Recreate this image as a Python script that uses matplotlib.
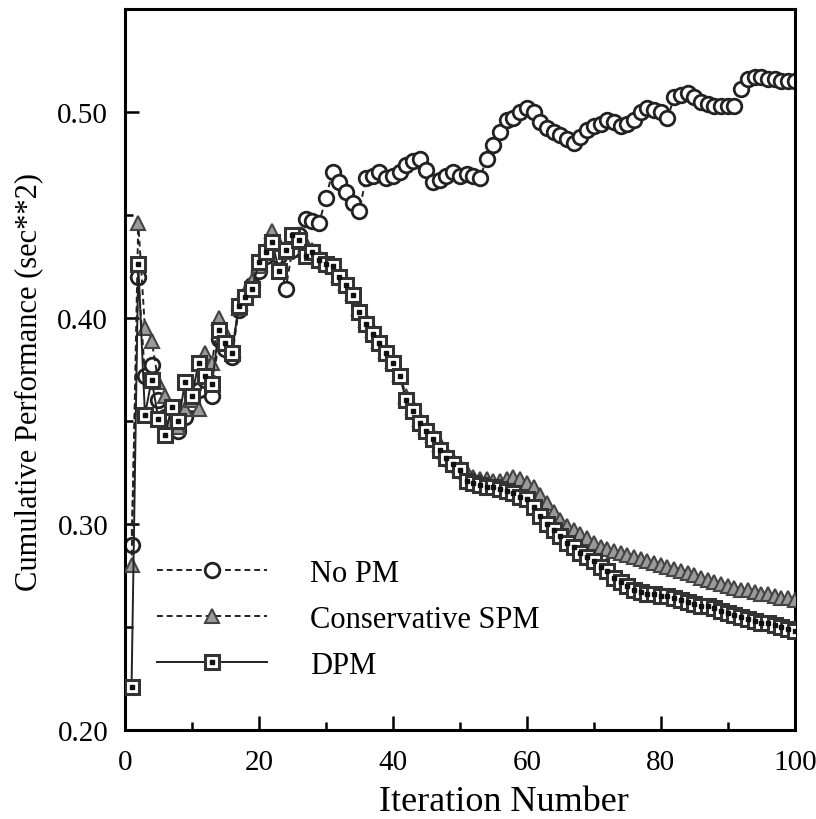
import matplotlib
matplotlib.use('Agg')
import matplotlib.pyplot as plt
import numpy as np
from matplotlib.ticker import MultipleLocator

# --- data (iterations 1..100) ---
iterations = list(range(1, 101))

no_pm = [
    0.290, 0.420, 0.372, 0.377, 0.360, 0.352, 0.347, 0.345, 0.352, 0.358,
    0.365, 0.370, 0.362, 0.390, 0.385, 0.381, 0.404, 0.410, 0.416, 0.423,
    0.430, 0.436, 0.430, 0.414, 0.433, 0.440, 0.448, 0.447, 0.446, 0.458,
    0.471, 0.466, 0.461, 0.456, 0.452, 0.468, 0.469, 0.471, 0.468, 0.469,
    0.471, 0.474, 0.476, 0.477, 0.472, 0.466, 0.467, 0.469, 0.471, 0.469,
    0.470, 0.469, 0.468, 0.477, 0.484, 0.490, 0.496, 0.497, 0.500, 0.502,
    0.500, 0.495, 0.492, 0.490, 0.489, 0.487, 0.485, 0.488, 0.491, 0.493,
    0.494, 0.496, 0.495, 0.493, 0.494, 0.496, 0.500, 0.502, 0.501, 0.500,
    0.497, 0.507, 0.508, 0.509, 0.507, 0.505, 0.504, 0.503, 0.503, 0.503,
    0.503, 0.511, 0.516, 0.517, 0.517, 0.516, 0.516, 0.515, 0.515, 0.515,
]

conservative_spm = [
    0.280, 0.446, 0.395, 0.389, 0.369, 0.362, 0.350, 0.347, 0.356, 0.360,
    0.356, 0.383, 0.378, 0.400, 0.393, 0.385, 0.405, 0.412, 0.418, 0.425,
    0.432, 0.442, 0.436, 0.432, 0.440, 0.437, 0.436, 0.433, 0.430, 0.427,
    0.425, 0.421, 0.417, 0.412, 0.405, 0.399, 0.394, 0.389, 0.384, 0.379,
    0.373, 0.362, 0.357, 0.351, 0.347, 0.343, 0.339, 0.335, 0.331, 0.328,
    0.325, 0.323, 0.322, 0.322, 0.321, 0.321, 0.322, 0.323, 0.322, 0.320,
    0.318, 0.314, 0.310, 0.306, 0.302, 0.299, 0.297, 0.295, 0.293, 0.291,
    0.289, 0.288, 0.287, 0.286, 0.285, 0.284, 0.283, 0.282, 0.281, 0.280,
    0.279, 0.278, 0.277, 0.276, 0.275, 0.274, 0.273, 0.272, 0.271, 0.270,
    0.269, 0.268, 0.268, 0.267, 0.266, 0.266, 0.265, 0.264, 0.264, 0.263,
]

dpm = [
    0.221, 0.426, 0.353, 0.370, 0.351, 0.343, 0.357, 0.350, 0.369, 0.362,
    0.378, 0.372, 0.368, 0.394, 0.388, 0.383, 0.406, 0.410, 0.414, 0.427,
    0.432, 0.437, 0.423, 0.433, 0.440, 0.438, 0.430, 0.432, 0.428, 0.426,
    0.425, 0.420, 0.416, 0.411, 0.403, 0.397, 0.392, 0.388, 0.383, 0.378,
    0.372, 0.360, 0.355, 0.349, 0.345, 0.341, 0.336, 0.332, 0.329, 0.326,
    0.321, 0.320, 0.319, 0.318, 0.318, 0.317, 0.316, 0.315, 0.313, 0.312,
    0.308, 0.304, 0.300, 0.297, 0.294, 0.291, 0.289, 0.286, 0.284, 0.282,
    0.279, 0.277, 0.274, 0.272, 0.270, 0.268, 0.267, 0.266, 0.266, 0.265,
    0.265, 0.264, 0.263, 0.262, 0.261, 0.260, 0.260, 0.259, 0.258, 0.257,
    0.256, 0.255, 0.254, 0.253, 0.252, 0.252, 0.251, 0.250, 0.249, 0.248,
]

plt.rcParams['font.family'] = ['Liberation Serif', 'DejaVu Serif']

fig = plt.figure(figsize=(8.16, 8.20), dpi=100)
ax = fig.add_axes([0.153, 0.1085, 0.821, 0.8795])

# No PM: dashed line, open circles
h_nopm, = ax.plot(iterations, no_pm, linestyle=(0, (3, 2)), color='#222222', linewidth=1.4,
                  marker='o', markersize=10.5, markerfacecolor='white', markeredgecolor='#222222',
                  markeredgewidth=2.0, zorder=2)

# Conservative SPM: dashed line, grey triangles
h_spm, = ax.plot(iterations, conservative_spm, linestyle=(0, (3, 2)), color='#222222', linewidth=1.4,
                 marker='^', markersize=10.5, markerfacecolor='#9a9a9a', markeredgecolor='#444444',
                 markeredgewidth=1.5, zorder=3)

# DPM: solid line, squares with a dot in the middle
h_dpm, = ax.plot(iterations, dpm, linestyle='-', color='#222222', linewidth=1.4,
                 marker='s', markersize=10, markerfacecolor='white', markeredgecolor='#333333',
                 markeredgewidth=2.2, zorder=4)
h_dot, = ax.plot(iterations, dpm, linestyle='none', marker='s', markersize=2.4,
                 color='#111111', zorder=5)

ax.set_xlim(0, 100)
ax.set_ylim(0.20, 0.55)
ax.xaxis.set_major_locator(MultipleLocator(20))
ax.xaxis.set_minor_locator(MultipleLocator(10))
ax.yaxis.set_minor_locator(MultipleLocator(0.05))
ax.set_yticks([0.20, 0.30, 0.40, 0.50])
ax.set_yticklabels(['0.20', '0.30', '0.40', '0.50'])

ax.tick_params(which='both', direction='in', top=False, right=False,
               labelsize=21, width=1.8)
ax.tick_params(which='major', length=10, pad=12)
ax.tick_params(which='minor', length=6)
ax.tick_params(axis='x', pad=14)
for sp in ax.spines.values():
    sp.set_linewidth(2.2)

ax.set_xlabel('Iteration Number', fontsize=26)
ax.xaxis.set_label_coords(0.566, -0.076)
ax.set_ylabel('Cumulative Performance (sec**2)', fontsize=22)
ax.yaxis.set_label_coords(-0.122, 0.484)

ax.legend([h_nopm, h_spm, (h_dpm, h_dot)], ['No PM', 'Conservative SPM', 'DPM'],
          loc='upper left', bbox_to_anchor=(0.03, 0.254), frameon=False,
          fontsize=22, handlelength=3.6, handletextpad=1.4, labelspacing=0.55,
          numpoints=1, borderaxespad=0)

fig.savefig('out.png', dpi=100)
